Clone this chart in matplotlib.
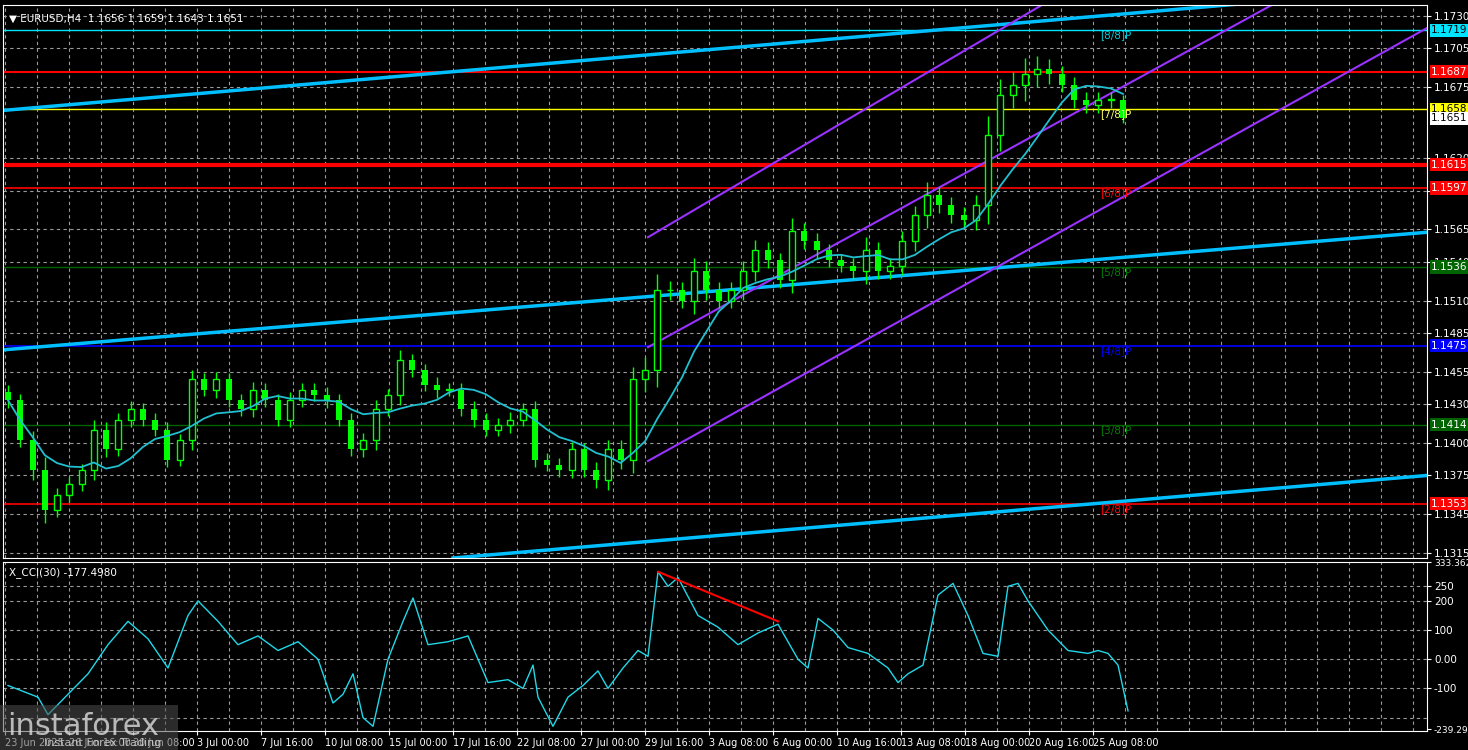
import matplotlib
matplotlib.use("Agg")
import matplotlib.pyplot as plt
import numpy as np
import pandas as pd

# ---- data ----
closes = [1.1433,1.1402,1.1379,1.1348,1.1360,1.1368,1.1379,1.1410,1.1395,1.1418,1.1426,1.1418,1.1410,1.1387,1.1402,1.1449,
          1.1441,1.1449,1.1433,1.1426,1.1441,1.1433,1.1418,1.1433,1.1441,1.1437,1.1433,1.1418,1.1395,1.1402,1.1426,1.1437,
          1.1464,1.1456,1.1445,1.1441,1.1441,1.1426,1.1418,1.1410,1.1414,1.1418,1.1426,1.1387,1.1383,1.1379,1.1395,1.1379,
          1.1371,1.1395,1.1387,1.1449,1.1456,1.1518,1.1518,1.1510,1.1533,1.1518,1.1510,1.1518,1.1533,1.1549,1.1541,1.1526,
          1.1564,1.1556,1.1549,1.1541,1.1537,1.1533,1.1549,1.1533,1.1537,1.1556,1.1576,1.1592,1.1584,1.1576,1.1572,1.1584,
          1.1638,1.1669,1.1677,1.1685,1.1689,1.1685,1.1677,1.1665,1.1661,1.1665,1.1665,1.1651]
highs_add = [0.0012,0.0010,0.0015,0.0020,0.0010,0.0012,0.0010,0.0015,0.0012,0.0010,0.0012,0.0010,0.0010,0.0012,0.0010,0.0015,
             0.0010,0.0012,0.0010,0.0010,0.0012,0.0010,0.0010,0.0012,0.0010,0.0010,0.0012,0.0010,0.0010,0.0012,0.0015,0.0010,
             0.0015,0.0010,0.0010,0.0012,0.0010,0.0010,0.0012,0.0010,0.0010,0.0012,0.0010,0.0012,0.0010,0.0010,0.0012,0.0010,
             0.0012,0.0015,0.0015,0.0020,0.0020,0.0025,0.0015,0.0012,0.0020,0.0015,0.0012,0.0012,0.0015,0.0015,0.0012,0.0012,
             0.0020,0.0012,0.0012,0.0010,0.0010,0.0012,0.0020,0.0012,0.0012,0.0015,0.0015,0.0020,0.0012,0.0012,0.0012,0.0015,
             0.0030,0.0025,0.0020,0.0025,0.0020,0.0015,0.0012,0.0012,0.0012,0.0012,0.0012,0.0008]
cci_x = [0,3,4,6,8,10,12,14,16,18,19,21,23,25,27,29,31,32.5,33.5,34.5,35.5,36.5,38,39.5,40.5,42,44,46,48,50,51.5,52.5,53,54.5,56,57.5,59,60,61.5,63,64,
         65,66,67,69,71,73,75,77,79,80,81,82.5,84,86,88,89,90,91.5,93,94.5,96,97.5,99,100,101,102,104,106,108,109,110,111,112]
cci_v = [-90,-130,-190,-120,-50,50,130,70,-30,150,200,130,50,80,30,60,0,-150,-120,-50,-200,-230,0,130,210,50,60,80,-80,-70,-100,-20,-130,-230,-130,-90,-40,-100,-30,30,10,
         300,250,280,150,110,50,90,120,0,-30,140,100,40,20,-30,-80,-50,-20,220,260,150,20,10,250,260,200,100,30,20,30,20,-20,-177]
levels = [1.1719,1.1687,1.1658,1.1615,1.1597,1.1536,1.1475,1.1414,1.1353]
level_colors = ['#00e5ff','#ff0000','#ffff00','#ff0000','#ff0000','#006400','#0000ff','#006400','#ff0000']
level_lw = [1,1.5,1,3,1.2,1,1.2,1,1.2]
murrey = {'[8/8]P':(1.1719,'#00c8d8'),'[7/8]P':(1.1658,'#ffff66'),'[6/8]P':(1.1597,'#ff0000'),'[5/8]P':(1.1536,'#008000'),
          '[4/8]P':(1.1475,'#0000ff'),'[3/8]P':(1.1414,'#008000'),'[2/8]P':(1.1353,'#ff0000')}
price_ticks = [1.1730,1.1705,1.1675,1.1620,1.1595,1.1565,1.1540,1.1510,1.1485,1.1455,1.1430,1.1400,1.1375,1.1345,1.1315]
date_labels = ["23 Jun 2025","26 Jun 16:00","30 Jun 08:00","3 Jul 00:00","7 Jul 16:00","10 Jul 08:00","15 Jul 00:00",
               "17 Jul 16:00","22 Jul 08:00","27 Jul 00:00","29 Jul 16:00","3 Aug 08:00","6 Aug 00:00","10 Aug 16:00",
               "13 Aug 08:00","18 Aug 00:00","20 Aug 16:00","25 Aug 08:00"]
cyan_lines = [(0,1.1657,142.7,1.1752),(0,1.14719,142.7,1.1563),(45,1.1311,142.7,1.1375)]
purple_lines = [(64.5,1.1559,104,1.1739),(64.5,1.1474,127,1.1739),(64.5,1.1386,142.7,1.1722)]
cci_trend = [(65,300),(77,130)]

# ---- figure ----
W, H = 14.68, 7.5
fig = plt.figure(figsize=(W, H), dpi=100, facecolor='black')
x0f, x1f = 3/1468, 1427/1468
ax = fig.add_axes([x0f, 1-558/750, x1f-x0f, 553/750], facecolor='black')
ax2 = fig.add_axes([x0f, 1-731/750, x1f-x0f, 169/750], facecolor='black')
XMAX = 142.4
for a in (ax, ax2):
    a.set_xlim(0, XMAX)
    for s in a.spines.values():
        s.set_color('white')
    a.tick_params(colors='white', labelsize=7.5, length=3, pad=2)
    a.yaxis.tick_right()
    for gx in np.arange(0.2, XMAX, 3.2):
        a.axvline(gx, color='#9a9a9a', ls=(0, (3, 3)), lw=0.8, zorder=0)
ax.set_ylim(1.13110, 1.17385)
ax2.set_ylim(-246, 333.3621)

for p in price_ticks:
    ax.axhline(p, color='#9a9a9a', ls=(0, (3, 3)), lw=0.8, zorder=0)
ax.set_yticks(price_ticks)
ax.set_yticklabels([f"{p:.4f}" for p in price_ticks])
ax.set_xticks([])

n = len(closes)
idx = 0.5 + np.arange(n) * (111.5 / (n - 1))
opens = [closes[0]+0.0006] + closes[:-1]
for i in range(n):
    o, c = opens[i], closes[i]
    hi = max(o, c) + highs_add[i]*0.5
    lo = min(o, c) - highs_add[i]*0.5
    ax.vlines(idx[i], lo, hi, color='#00ff00', lw=1, zorder=3)
    if c >= o:
        ax.bar(idx[i], max(c-o, 0.00005), bottom=o, width=0.6, facecolor='black', edgecolor='#00ff00', lw=1, zorder=4)
    else:
        ax.bar(idx[i], o-c, bottom=c, width=0.6, color='#00ff00', zorder=4)
ma = pd.Series(closes).rolling(8, min_periods=1).mean()
ax.plot(idx, ma, color='#20c0d0', lw=1.3, zorder=5)

for lv, col, lw in zip(levels, level_colors, level_lw):
    ax.axhline(lv, color=col, lw=lw, zorder=2)
for xa, pa, xb, pb in cyan_lines:
    ax.plot([xa, xb], [pa, pb], color='#00bfff', lw=2.5, zorder=2)
for xa, pa, xb, pb in purple_lines:
    ax.plot([xa, xb], [pa, pb], color='#9932ff', lw=1.5, zorder=2)
for name, (p, col) in murrey.items():
    ax.text(109.7, p, name, color=col, fontsize=7.5, va='top', zorder=6)

badges = [(1.1719,'#00e5ff','black'),(1.1687,'#ff0000','white'),(1.1658,'#ffff00','black'),(1.1651,'white','black'),
          (1.1615,'#ff0000','white'),(1.1597,'#ff0000','white'),(1.1536,'#006400','white'),(1.1475,'#0000ff','white'),
          (1.1414,'#006400','white'),(1.1353,'#ff0000','white')]
for p, bg, fg in badges:
    ax.text(1.003, p, f"{p:.4f}", transform=ax.get_yaxis_transform(), color=fg, fontsize=7.5, va='center', ha='left',
            bbox=dict(boxstyle='square,pad=0.15', fc=bg, ec='none'), zorder=10, clip_on=False)

ax.text(0.004, 0.985, "\u25bc EURUSD,H4  1.1656 1.1659 1.1643 1.1651", transform=ax.transAxes, color='white', fontsize=7.5, va='top')

# CCI
for v in (250, 200, 100, 0, -100, -200):
    ax2.axhline(v, color='#9a9a9a', ls=(0, (3, 3)), lw=0.8, zorder=0)
ax2.set_yticks([333.3621, 250, 200, 100, 0, -100, -239.299])
ax2.set_yticklabels(["333.3621", "250", "200", "100", "0.00", "-100", "-239.299"])
for lbl in ax2.get_yticklabels():
    if lbl.get_text() in ("333.3621", "-239.299"):
        lbl.set_fontsize(6.5)
ax2.plot(np.array(cci_x)+0.5, cci_v, color='#20d8e8', lw=1)
ax2.plot([cci_trend[0][0]+0.5, cci_trend[1][0]+0.5], [cci_trend[0][1], cci_trend[1][1]], color='red', lw=1.5)
ax2.text(0.004, 0.97, "X_CCI(30) -177.4980", transform=ax2.transAxes, color='white', fontsize=7.5, va='top')
ticks = [0.2 + 6.4*k for k in range(len(date_labels))]
ax2.set_xticks(ticks)
ax2.set_xticklabels(date_labels, ha='left', fontsize=7, family='Liberation Sans Narrow')

fig.patches.append(plt.Rectangle((0, 0), 178/1468, 45/750, transform=fig.transFigure, fc='#505050', alpha=0.55, zorder=20))
fig.text(0.005, 0.02, "instaforex", color='#dddddd', fontsize=22, alpha=0.8, zorder=21)
fig.text(0.03, 0.005, "Instant Forex Trading", color='#dddddd', fontsize=8, alpha=0.8, zorder=21)
fig.savefig("out.png", dpi=100, facecolor='black')
